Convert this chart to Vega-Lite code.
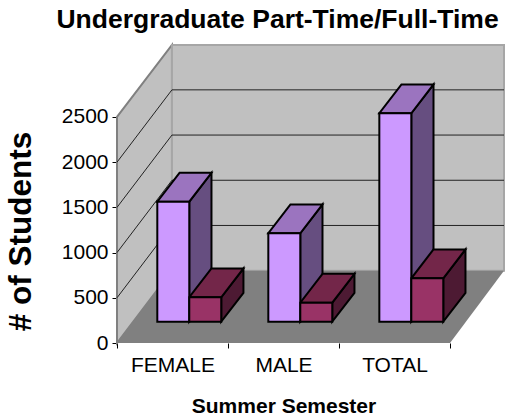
{"$schema":"https://vega.github.io/schema/vega-lite/v6.json","width":387,"height":298,"autosize":"none","padding":{"left":117,"top":45,"right":2,"bottom":76},"background":"white","config":{"view":{"stroke":null},"font":"Liberation Sans"},"title":{"text":"Undergraduate Part-Time/Full-Time","font":"Liberation Sans","fontSize":26.5,"fontWeight":"bold","color":"black","anchor":"middle","dx":-33,"offset":8},"datasets":{"bars":[{"category":"FEMALE","series":"Full-Time","value":1327},{"category":"FEMALE","series":"Part-Time","value":270},{"category":"MALE","series":"Full-Time","value":978},{"category":"MALE","series":"Part-Time","value":210},{"category":"TOTAL","series":"Full-Time","value":2305},{"category":"TOTAL","series":"Part-Time","value":480}],"ticks":[{"tick":500},{"tick":1000},{"tick":1500},{"tick":2000}],"leftWall":[{"cx":0,"cy":2500,"low":0},{"cx":0.495,"cy":3296,"low":800}],"floor":[{"cx":0,"right":3,"cy":0},{"cx":0.495,"right":3.486,"cy":800}]},"encoding":{"x":{"field":"cx","type":"quantitative","scale":{"domain":[0,3.486],"nice":false,"zero":false},"axis":{"values":[0,1,2,3],"domain":false,"grid":false,"tickSize":5,"tickColor":"black","labelExpr":"datum.value==0?'FEMALE':datum.value==1?'MALE':datum.value==2?'TOTAL':''","labelOffset":55.5,"labelFontSize":21,"labelColor":"black","labelPadding":6,"labelBound":false,"labelOverlap":false,"labelFlush":false,"title":"Summer Semester","titleFontSize":21,"titleFontWeight":"bold","titleColor":"black","titleAnchor":"middle","titleX":166.5,"titleY":69.5,"titleBaseline":"alphabetic"}},"y":{"field":"cy","type":"quantitative","scale":{"domain":[0,3296],"nice":false,"zero":false},"axis":{"values":[0,500,1000,1500,2000,2500],"format":"d","domain":false,"grid":false,"tickSize":5,"tickColor":"black","labelFontSize":21,"labelColor":"black","labelPadding":4,"title":"# of Students","titleFontSize":31.5,"titleFontWeight":"bold","titleColor":"black","titleX":-80,"titleY":186}}},"layer":[{"data":{"name":"leftWall"},"mark":{"type":"area","fill":"#C0C0C0","stroke":"#808080","strokeWidth":2},"encoding":{"y2":{"field":"low"}}},{"data":{"values":[{"cx":0.495,"cy":3296}]},"mark":{"type":"bar","fill":"#C0C0C0","stroke":"#A6A6A6","strokeWidth":2},"encoding":{"x2":{"datum":3.486},"y2":{"datum":800}}},{"data":{"name":"ticks"},"transform":[{"calculate":"datum.tick+800","as":"cy"},{"calculate":"0.495","as":"cx"}],"layer":[{"mark":{"type":"rule","color":"#222222","strokeWidth":1},"encoding":{"x2":{"datum":3.486}}},{"mark":{"type":"rule","color":"#222222","strokeWidth":1},"encoding":{"x":{"datum":0},"x2":{"datum":0.495},"y":{"field":"tick","type":"quantitative"},"y2":{"field":"cy"}}}]},{"mark":{"type":"rule","color":"#808080","strokeWidth":2},"encoding":{"x":{"datum":0.495},"y":{"datum":800},"y2":{"datum":3296}}},{"data":{"name":"floor"},"mark":{"type":"area","orient":"horizontal","fill":"#808080"},"encoding":{"x2":{"field":"right"}}},{"mark":{"type":"rule","color":"#111111","strokeWidth":1.5},"encoding":{"x":{"datum":0},"x2":{"datum":3},"y":{"datum":0}}},{"mark":{"type":"rule","color":"#111111","strokeWidth":1.5},"encoding":{"x":{"datum":0},"y":{"datum":0},"y2":{"datum":2500}}},{"data":{"name":"bars"},"transform":[{"calculate":"indexof(['FEMALE','MALE','TOTAL'],datum.category)+0.363+(datum.series=='Part-Time'?0.288:0)","as":"start"},{"calculate":"datum.start+0.288","as":"end"},{"calculate":"datum.value+236","as":"top"},{"calculate":"236","as":"base"},{"calculate":"datum.category+datum.series","as":"key"},{"calculate":"[0,1]","as":"d"},{"flatten":["d"]}],"layer":[{"transform":[{"calculate":"datum.end+datum.d*0.2","as":"cx"},{"calculate":"datum.top+datum.d*319","as":"cy"},{"calculate":"datum.base+datum.d*319","as":"low"}],"mark":{"type":"area","stroke":"black","strokeWidth":2},"encoding":{"detail":{"field":"key"},"y2":{"field":"low"},"color":{"field":"series","scale":{"domain":["Full-Time","Part-Time"],"range":["#664E80","#4D1A33"]},"legend":null}}},{"transform":[{"calculate":"datum.start+datum.d*0.2","as":"cx"},{"calculate":"datum.end+datum.d*0.2","as":"right"},{"calculate":"datum.top+datum.d*319","as":"cy"}],"mark":{"type":"area","orient":"horizontal","stroke":"black","strokeWidth":2},"encoding":{"detail":{"field":"key"},"x2":{"field":"right"},"color":{"field":"series","scale":{"domain":["Full-Time","Part-Time"],"range":["#9B74BF","#732649"]},"legend":null}}},{"transform":[{"filter":"datum.d==0"},{"calculate":"datum.start","as":"cx"},{"calculate":"datum.top","as":"cy"}],"mark":{"type":"bar","stroke":"black","strokeWidth":2},"encoding":{"x2":{"field":"end"},"y2":{"field":"base"},"color":{"field":"series","scale":{"domain":["Full-Time","Part-Time"],"range":["#CC99FF","#993366"]},"legend":null}}}],"resolve":{"scale":{"color":"independent"}}}],"resolve":{"scale":{"color":"independent"}}}
